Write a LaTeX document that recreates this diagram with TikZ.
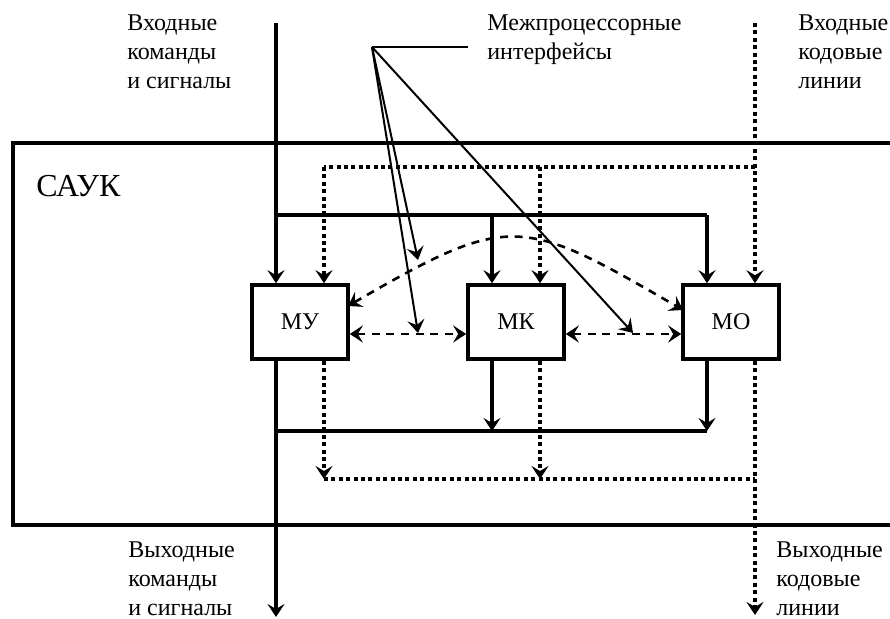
\documentclass[tikz,border=0pt]{standalone}
\usepackage{fontspec}
\setmainfont{Liberation Serif}
\usetikzlibrary{arrows.meta,calc}
\begin{document}
\begin{tikzpicture}[x=0.5pt,y=-0.5pt,
  box/.style={draw,line width=1.8pt,minimum width=48pt,minimum height=37pt,inner sep=0pt,font=\fontsize{12}{14}\selectfont},
  thk/.style={line width=2pt},
  dotl/.style={line width=2.1pt,dash pattern=on 2pt off 1.7pt},
  dashl/.style={line width=1.3pt,dash pattern=on 4pt off 3.3pt},
  thn/.style={line width=1pt},
  tip/.style={-{Stealth[length=6.5pt,width=8.5pt,inset=2.5pt]}},
  both/.style={{Stealth[length=6.5pt,width=8.5pt,inset=2.5pt]}-{Stealth[length=6.5pt,width=8.5pt,inset=2.5pt]}},
  lbl/.style={anchor=base west,align=left,inner sep=0pt,font=\fontsize{12}{14.5}\selectfont},
]
\useasboundingbox (0,0) rectangle (890,619);
\clip (0,0) rectangle (890,619);

% outer block
\draw[thk] (13,143) rectangle (905,525);
\node[anchor=base west,inner sep=0pt,font=\fontsize{16}{18}\selectfont] (sauk) at (36,197) {САУК};

% modules
\node[box] (MU) at (300,322) {МУ};
\node[box] (MK) at (516,322) {МК};
\node[box] (MO) at (731,322) {МО};

% reference coordinates
\coordinate (inTop) at (276,23);
\coordinate (outBot) at (276,617);
\coordinate (codeTop) at (755,23);
\coordinate (codeBot) at (755,615);
\coordinate (xu) at (324,0);
\coordinate (xk) at (492,0);
\coordinate (xkd) at (540,0);
\coordinate (xo) at (707,0);
\coordinate (busU) at (0,215);
\coordinate (busD) at (0,431);
\coordinate (dotU) at (0,167);
\coordinate (dotD) at (0,479);
\coordinate (dl) at (0,334);

% solid command lines
\draw[thk,tip] (inTop) -- (inTop |- MU.north);
\draw[thk] (inTop |- busU) -- (xo |- busU);
\draw[thk,tip] (xk |- busU) -- (xk |- MK.north);
\draw[thk,tip] (xo |- busU) -- (xo |- MO.north);
\draw[thk,tip] (inTop |- MU.south) -- (outBot);
\draw[thk] (inTop |- busD) -- (xo |- busD);
\draw[thk,tip] (xk |- MK.south) -- (xk |- busD);
\draw[thk,tip] (xo |- MO.south) -- (xo |- busD);

% dotted code lines
\draw[dotl,tip] (codeTop) -- (codeTop |- MO.north);
\draw[dotl] (codeTop |- dotU) -- (xu |- dotU);
\draw[dotl,tip] (xu |- dotU) -- (xu |- MU.north);
\draw[dotl,tip] (xkd |- dotU) -- (xkd |- MK.north);
\draw[dotl,tip] (codeTop |- MO.south) -- (codeBot);
\draw[dotl] (xu |- dotD) -- (codeTop |- dotD);
\draw[dotl,tip] (xu |- MU.south) -- (xu |- dotD);
\draw[dotl,tip] (xkd |- MK.south) -- (xkd |- dotD);

% dashed interprocessor links
\draw[dashl,both] (MU.east |- dl) -- (MK.west |- dl);
\draw[dashl,both] (MK.east |- dl) -- (MO.west |- dl);
\coordinate (cA) at (348,306);
\coordinate (cB) at (683,310);
\draw[dashl,both] (cA) .. controls (510,212) and (521,216) .. (cB);

% pointer to interfaces
\coordinate (ptr) at (372,47);
\coordinate (ptrEnd) at (468,47);
\coordinate (p1) at (418,260);
\coordinate (p2) at (418,333);
\coordinate (p3) at (633,333);
\draw[thn] (ptr) -- (ptrEnd);
\draw[thn,tip] (ptr) -- (p1);
\draw[thn,tip] (ptr) -- (p2);
\draw[thn,tip] (ptr) -- (p3);

% labels (base anchor = baseline of last line)
\node[lbl] (inCmd) at (127,89) {Входные\\команды\\и сигналы};
\node[lbl] (iface) at (487,60) {Межпроцессорные\\интерфейсы};
\node[lbl] (inCode) at (798,89) {Входные\\кодовые\\линии};
\node[lbl] (outCmd) at (128,616) {Выходные\\команды\\и сигналы};
\node[lbl] (outCode) at (776,616) {Выходные\\кодовые\\линии};
\end{tikzpicture}
\end{document}
